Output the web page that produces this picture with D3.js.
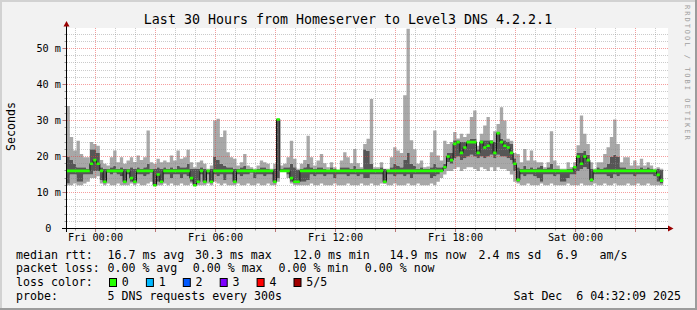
<!DOCTYPE html>
<html>
<head>
<meta charset="utf-8">
<script src="https://cdn.jsdelivr.net/npm/d3@7"></script>
<style>
  html, body { margin: 0; padding: 0; background: #fff; }
  svg { display: block; font-family: "DejaVu Sans Mono", monospace; }
</style>
</head>
<body>
<svg id="chart" width="697" height="310"></svg>
<script>
// ---- data (10 minute bins, values in ms) ----
const chartTitle = "Last 30 Hours from Homeserver to Level3 DNS 4.2.2.1";
const startTime = new Date(2025, 11, 4, 22, 32, 9);
const endTime = new Date(2025, 11, 6, 4, 32, 9);
const stepMinutes = 10;

const pingMin = [
  12,12,12.5,12,12,12.5,13,14,14,14.5,
  12.5,12,12.5,12,12,12.5,12,12,12,12.5,
  12,12.5,12,12,12.5,13,12,12,12,12.5,
  12,12.5,12,12,12.5,12,12,12.5,12,12,
  12,12,12.5,12,13,12.5,12,12.5,12,12,
  12,12.5,12,12,12.5,12,12,12.5,12,12,
  12.5,12,12,13,16,16,14,12.5,12,12,
  12,12,12,12.5,12,12,12.5,12,12,12,
  12.5,12,12,12,12.5,12,12,12,12.5,12,
  12,12.5,12,12,12.5,12.5,12,12,12.5,12,
  12,12,12.5,12,12,12.5,12,12,12,12.5,
  12,13,14,15,16,16,16.5,17,16,16.5,
  17,17,16.5,16,17,16.5,16,17,16,17,
  16.5,16.5,16,15,13,12.5,12,12,12.5,12,
  12,12,12.5,12,12,12.5,12,12,12,12,
  12.5,12,12,12,12.5,12,12,12,12.5,12,
  12,12.5,12,12,12.5,12,12,12,12.5,12,
  12,12.5,12,12,12.5,12,12,12,12
];
const pingLowMid = [
  12.5,15,15,13,13,15,15,15,16,16,
  13.5,12.5,15.5,15,15.5,15,14.5,12.5,15,13,
  12.5,15,15,14.5,15,15.5,12,13,12.5,15,
  15,14,15,15,14,15,14.5,13,12,12.5,
  15,12.5,15,12.5,15,14.5,15,13.5,15,15,
  12.5,15,14.5,15,15,15.5,14,15,15,14.5,
  15,15,12.5,14,16,16,15,13,12.5,12.5,
  13,13,13.5,15,14.5,15,15,14.5,15,15,
  14,15,15,15,14.5,15,15,14.5,15,14,
  14,15,15,15,15,12.5,15,15,14.5,15,
  15,14.5,15,14,15,15,15,15,15,14,
  14.5,15,16,16.5,18.5,18,19.5,20,19,19.5,
  20,20.5,20,19.5,20,19.5,20,20.5,19.5,20.5,
  20,20,19.5,19,16,13,15,14.5,15,15,
  14.5,14,13,15,15,15,14.5,15,13,13,
  14,15,15,16,16.5,17,16.5,13,15,15,
  15,15,14.5,14,15,14.5,15,15,15,15,
  14.5,15,15,15,15,15,14.5,13,12.5
];
const pingMedian = [
  16,16,16,16,16,16,16,18,19,18,
  16,13,16,16,16,16,16,13,16,14,
  13,16,16,16,16,16,12,15,13,16,
  16,16,16,16,16,16,16,14,12,13,
  16,13,16,13,16,16,16,16,16,16,
  13,16,16,16,16,16,16,16,16,16,
  16,16,13,30.3,16,16,16,14,13,13,
  16,16,16,16,16,16,16,16,16,16,
  16,16,16,16,16,16,16,16,16,16,
  16,16,16,16,16,13,16,16,16,16,
  16,16,16,16,16,16,16,16,16,16,
  16,16,16,17,20,19,23.5,24,21,22.5,
  24,24,24,21,24,22.5,23,24,21,26.5,
  24,23,22.5,21,18,13.5,16,16,16,16,
  16,16,16,16,16,16,16,16,16,16,
  16,16,17,20,18,20,19,13.5,16,16,
  16,16,16,16,16,16,16,16,16,16,
  16,16,16,16,16,16,16,14.9,13.3
];
const pingHighMid = [
  20,19,18,17,17,17,16.5,22,22,21,
  17,16.5,16.5,17,17.5,16.5,17,16.5,16.5,17,
  16.5,17,16.5,17,18,16.5,16.5,17,16.5,17,
  16.5,17,16.5,17.5,17,17,18,16.5,16.5,16.5,
  17,16.5,16.3,16.5,20,19,18,17.5,17,17,
  16.5,16.5,17,17.5,16.5,16.5,16.3,16.5,17,17,
  16.5,16.3,16.5,30.3,16.5,17,17,18,17,16.3,
  16.5,17,18,17,16.5,17,17,16.5,16.3,17,
  16.5,16.1,17,17,17,16.5,17.5,16.5,16.5,22,
  21.5,18,16.5,16.5,17,16.5,16.3,17,18,17.5,
  17,19,21,18,17.5,16.5,17,16.5,16.5,17,
  18,17,17,18,21,21,24.5,24.5,24,24,
  24.5,25,25,22,24.5,24.5,24.5,24.5,24,26.8,
  25,24.5,24,23.5,19.5,17,16.5,17.5,16.5,17,
  16.5,17,17.5,16.5,17,18,16.5,16.5,16.3,16.3,
  16.5,16.5,17,21,21,21.5,20.5,16.5,16.3,17,
  16.5,17,18,20,20.5,20,17,17,16.5,16.5,
  16.5,16.5,17,16.5,17,16.5,16.3,16.5,16.3
];
const pingMax = [
  34,25.4,21.7,24.4,20.7,19.8,19.8,24,23.5,23,
  19,18,17.5,19.8,21.7,18.4,19.8,18,18.9,19.8,
  18.5,20.3,19,19.8,27.2,18.4,18,19.4,18.4,18.9,
  18.4,20.3,18.9,21.7,19.4,19.8,21.9,18.4,17,18.4,
  18.9,18,16.6,17.5,30,30.5,25.4,27.2,21.2,19.8,
  19.4,17.5,18.4,20.7,17.5,17,16.6,17.5,18.9,18.4,
  18,16.6,18,30.5,17.5,18,19.8,24.4,19.4,16.6,
  18,19,25.8,19.8,17.5,18.9,20.7,18.1,17,18.4,
  17,16.2,18.9,21.2,19.8,18.1,22.1,18.1,17,23.5,
  24.9,36,17,17,18.4,16.6,16.6,19.8,22.6,21.7,
  21,37,55.5,24.5,22,18,18.9,17,17.2,21.2,
  27.2,20.3,18.9,24.4,23.5,24,26.8,25,26.3,25.4,
  26.3,31,32.8,23,26.3,28.6,31,24.4,27,29,
  33.7,30,24.9,24.4,21,20.7,18.4,22.1,18.9,21.7,
  18.9,18.4,18.4,17,18.4,27,18.9,17.5,16.6,16.6,
  18.4,17,18.4,23.1,31.4,26.3,23.5,18.4,16.6,18.4,
  18.4,20.7,22.6,25.4,30.3,23.5,18.4,19.8,19.8,17.5,
  18.9,17.5,19.4,17.5,18.4,17.5,16.6,17,16.6
];

const yTickValues = [0, 10, 20, 30, 40, 50];
const yAxisTitle = "Seconds";
const watermark = "RRDTOOL / TOBI OETIKER";

const rttLegend = ["median rtt:", "16.7 ms avg", "30.3 ms max", "12.0 ms min", "14.9 ms now", "2.4 ms sd", "6.9", "am/s"];
const lossLegend = ["packet loss:", "0.00 % avg", "0.00 % max", "0.00 % min", "0.00 % now"];
const lossColorTitle = "loss color:";
const lossLabels = ["0", "1", "2", "3", "4", "5/5"];
const lossColors = ["#26ff00", "#00b8ff", "#0059ff", "#7e00ff", "#ff0000", "#a10000"];
const probeLegend = ["probe:", "5 DNS requests every 300s"];
const stampText = "Sat Dec  6 04:32:09 2025";

// ---- layout ----
const W = 697, H = 310;
const plot = {left: 66.5, right: 666.5, top: 28, bottom: 228.5};
const smokeLight = "#a8a8a8", smokeDark = "#565656";
const crisp = v => Math.floor(v) + 0.5;

const svg = d3.select("#chart");

// frame
svg.append("rect").attr("width", W).attr("height", H).attr("fill", "#f2f2f2");
svg.append("path").attr("d", `M0,0H${W}V2H2V${H}H0Z`).attr("fill", "#d2d2d2");
svg.append("path").attr("d", `M${W},0V${H}H0V${H - 2}H${W - 2}V0Z`).attr("fill", "#9c9c9c");

// canvas
svg.append("rect")
  .attr("x", 67).attr("y", plot.top)
  .attr("width", 601).attr("height", 200.5)
  .attr("fill", "#ffffff");

const x = d3.scaleTime().domain([startTime, endTime]).range([plot.left, plot.right]);
const y = d3.scaleLinear().domain([0, 55.7]).range([plot.bottom, plot.top]);

// bins
const binTime = i => d3.timeMinute.offset(startTime, i * stepMinutes);
const bins = pingMedian.map((m, i) => ({
  t: binTime(i),
  t1: binTime(i + 1),
  p: [pingMin[i], pingLowMid[i], m, pingHighMid[i], pingMax[i]]
}));
// closing point so the step curve covers the last bin
const stepData = bins.concat([{t: bins[bins.length - 1].t1, p: bins[bins.length - 1].p}]);

// smoke
const gSmoke = svg.append("g");
[0, 1, 2, 3].forEach(k => {
  const area = d3.area()
    .curve(d3.curveStepAfter)
    .x(d => x(d.t))
    .y0(d => y(d.p[k]))
    .y1(d => y(d.p[k + 1]));
  gSmoke.append("path")
    .datum(stepData)
    .attr("d", area)
    .attr("fill", (k === 0 || k === 3) ? smokeLight : smokeDark);
});

// grid (drawn over the data, like rrdtool)
const gGrid = svg.append("g").attr("stroke-dasharray", "1,1");
const hours = d3.timeHour.range(startTime, endTime);
hours.forEach(h => {
  const major = h.getHours() % 3 === 0;
  gGrid.append("line")
    .attr("x1", crisp(x(h))).attr("x2", crisp(x(h)))
    .attr("y1", plot.top).attr("y2", plot.bottom - 0.5)
    .attr("stroke", major ? "rgba(235,60,60,0.5)" : "rgba(140,140,140,0.45)");
});
d3.range(2, 56, 2).forEach(v => {
  const major = v % 10 === 0;
  gGrid.append("line")
    .attr("x1", 67).attr("x2", 668)
    .attr("y1", crisp(y(v))).attr("y2", crisp(y(v)))
    .attr("stroke", major ? "rgba(235,60,60,0.5)" : "rgba(140,140,140,0.45)");
});

// median: black steps with loss-coloured horizontal runs
svg.append("path")
  .datum(stepData)
  .attr("d", d3.line().curve(d3.curveStepAfter).x(d => x(d.t)).y(d => y(d.p[2])))
  .attr("fill", "none")
  .attr("stroke", "#111")
  .attr("stroke-width", 1);
svg.append("path")
  .attr("d", bins.map(d => `M${x(d.t)},${y(d.p[2])}H${x(d.t1)}`).join(""))
  .attr("fill", "none")
  .attr("stroke", lossColors[0])
  .attr("stroke-width", 2.6);

// axis ticks
const gTicks = svg.append("g");
d3.range(2, 56, 2).forEach(v => {
  const major = v % 10 === 0;
  gTicks.append("line")
    .attr("x1", major ? 62.5 : 64.5).attr("x2", 66.5)
    .attr("y1", crisp(y(v))).attr("y2", crisp(y(v)))
    .attr("stroke", major ? "#b77" : "#999");
});
hours.forEach(h => {
  const major = h.getHours() % 3 === 0;
  gTicks.append("line")
    .attr("x1", crisp(x(h))).attr("x2", crisp(x(h)))
    .attr("y1", 228.5).attr("y2", major ? 232 : 230.5)
    .attr("stroke", major ? "#b77" : "#999");
});

// axes
svg.append("line").attr("x1", 62).attr("x2", 669).attr("y1", 228.5).attr("y2", 228.5).attr("stroke", "#000");
svg.append("line").attr("x1", 66.5).attr("x2", 66.5).attr("y1", 232).attr("y2", 25).attr("stroke", "#000");
svg.append("path").attr("d", "M668,225.5L668,231.5L673.5,228.5Z").attr("fill", "#9a0000");
svg.append("path").attr("d", "M63.5,26.5L69.5,26.5L66.5,21Z").attr("fill", "#9a0000");

// y labels
svg.append("g").selectAll("text")
  .data(yTickValues)
  .join("text")
  .attr("x", d => d === 0 ? 51.5 : 61)
  .attr("y", d => crisp(y(d)) + 3.6)
  .attr("text-anchor", "end")
  .attr("font-size", 10.2)
  .attr("fill", "#000")
  .text(d => d === 0 ? "0" : d + " m");

// x labels every 6 hours
const fmt = d3.timeFormat("%a %H:%M");
svg.append("g").selectAll("text")
  .data(x.ticks(d3.timeHour.every(6)))
  .join("text")
  .attr("x", d => crisp(x(d)))
  .attr("y", 240.5)
  .attr("text-anchor", "middle")
  .attr("font-size", 10.2)
  .attr("fill", "#000")
  .text(fmt);

// title
svg.append("text")
  .attr("x", 348).attr("y", 24)
  .attr("text-anchor", "middle")
  .attr("font-size", 13.3)
  .attr("fill", "#000")
  .text(chartTitle);

// vertical axis title
svg.append("text")
  .attr("transform", "translate(15,126.5) rotate(-90)")
  .attr("text-anchor", "middle")
  .attr("font-size", 11.6)
  .attr("fill", "#000")
  .text(yAxisTitle);

// watermark
svg.append("text")
  .attr("transform", "translate(684.5,5) rotate(90)")
  .attr("font-size", 7)
  .attr("letter-spacing", 2)
  .attr("fill", "#a0a0a0")
  .text(watermark);

// legend
const legendFont = 11.6;
const rows = [258.5, 272.3, 286.1, 299.9];
const rttX = [16, 107.5, 195, 293, 389.5, 478.5, 556.5, 599.5];
const lossX = [16, 107.5, 192.8, 278.6, 364.8];

function legendRow(items, xs, yy) {
  svg.append("g").selectAll("text")
    .data(items)
    .join("text")
    .attr("x", (d, i) => xs[i])
    .attr("y", yy)
    .attr("font-size", legendFont)
    .attr("fill", "#000")
    .style("white-space", "pre")
    .text(d => d);
}
legendRow(rttLegend, rttX, rows[0]);
legendRow(lossLegend, lossX, rows[1]);
legendRow([lossColorTitle], [16], rows[2]);
legendRow(probeLegend, [16, 107.5], rows[3]);

const gLoss = svg.append("g");
lossLabels.forEach((lab, i) => {
  const bx = 109 + i * 36.9;
  gLoss.append("rect")
    .attr("x", bx + 0.5).attr("y", 278.5)
    .attr("width", 7).attr("height", 8)
    .attr("fill", lossColors[i])
    .attr("stroke", "#000");
  gLoss.append("text")
    .attr("x", bx + 12.8).attr("y", rows[2])
    .attr("font-size", legendFont)
    .attr("fill", "#000")
    .text(lab);
});

svg.append("text")
  .attr("x", 681).attr("y", rows[3])
  .attr("text-anchor", "end")
  .attr("font-size", legendFont)
  .attr("fill", "#000")
  .style("white-space", "pre")
  .text(stampText);
</script>
</body>
</html>
